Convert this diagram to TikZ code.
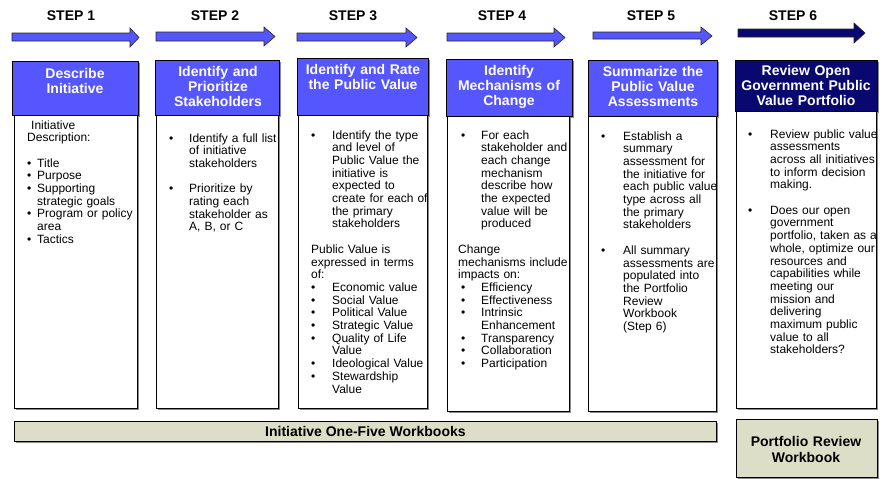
\documentclass[tikz,border=0pt]{standalone}
\usepackage{fontspec}
\setmainfont{Liberation Sans}
\usetikzlibrary{shadows}
\definecolor{hblue}{RGB}{86,86,255}
\definecolor{hnavy}{RGB}{8,8,112}
\definecolor{wbgreen}{RGB}{220,222,200}
\newlength\mybi
\newlength\myti
\newcommand\bl[1]{\makebox[\myti][l]{\hspace*{\mybi}\textbullet}#1}
\newcommand\ct[1]{\hspace*{\myti}#1}
\newcommand\blockarrow[9]{%
  \filldraw[fill=#9, draw=black!85, line width=0.6pt]
    (#1,#2) -- (#4,#2) -- (#4,#5) -- (#7,#8) -- (#4,#6) -- (#4,#3) -- (#1,#3) -- cycle;}
\tikzset{
  boxbase/.style={draw=black, line width=0.8pt, inner sep=0pt, anchor=north west,
    drop shadow={shadow xshift=1.2pt, shadow yshift=-1.2pt, fill=black!45, opacity=1}},
  steplabel/.style={font=\bfseries\fontsize{14}{15}\selectfont, inner sep=0pt, anchor=center},
  htxt/.style={anchor=base, text=white, font=\bfseries\fontsize{14}{15}\selectfont,
    align=center, text width=140pt, inner sep=0pt},
  bodytxt/.style={anchor=base west, inner sep=0pt, font=\fontsize{12}{12.7}\selectfont,
    align=left, text width=170pt},
  wbtxt/.style={font=\bfseries\fontsize{14}{16}\selectfont, align=center, inner sep=0pt}
}
\begin{document}
\begin{tikzpicture}[x=1pt,y=-1pt]
\useasboundingbox (0,0) rectangle (886,479);

% step labels
\node[steplabel] (s1) at (71,16) {STEP 1};
\node[steplabel] (s2) at (215,16) {STEP 2};
\node[steplabel] (s3) at (353,16) {STEP 3};
\node[steplabel] (s4) at (502,16) {STEP 4};
\node[steplabel] (s5) at (651,16) {STEP 5};
\node[steplabel] (s6) at (793,16) {STEP 6};

% block arrows
\blockarrow{12}{33}{41}{130}{28}{47}{139}{37.5}{hblue}
\blockarrow{156}{32}{41}{264}{27}{46}{275}{36.5}{hblue}
\blockarrow{297}{33}{41}{406}{28}{47}{417}{37.5}{hblue}
\blockarrow{447}{33}{41}{554}{28}{47}{565}{37.5}{hblue}
\blockarrow{593}{32}{39}{701}{27}{45}{712}{36}{hblue}
\blockarrow{738}{29}{37}{854}{23}{43}{865}{33}{hnavy}

% header boxes
\node[boxbase, fill=hblue, minimum width=126pt, minimum height=54pt] (h1) at (12,61) {};
\node[boxbase, fill=hblue, minimum width=124pt, minimum height=55pt] (h2) at (155,60) {};
\node[boxbase, fill=hblue, minimum width=131pt, minimum height=57pt] (h3) at (297,58) {};
\node[boxbase, fill=hblue, minimum width=126pt, minimum height=57pt] (h4) at (446,59) {};
\node[boxbase, fill=hblue, minimum width=129pt, minimum height=56pt] (h5) at (588,60) {};
\node[boxbase, fill=hnavy, minimum width=142pt, minimum height=51pt] (h6) at (735,60) {};

% body boxes
\node[boxbase, fill=white, minimum width=123pt, minimum height=293pt] (b1) at (14,115) {};
\node[boxbase, fill=white, minimum width=122pt, minimum height=293pt] (b2) at (156,115) {};
\node[boxbase, fill=white, minimum width=129pt, minimum height=293pt] (b3) at (298,115) {};
\node[boxbase, fill=white, minimum width=122pt, minimum height=295pt] (b4) at (447,116) {};
\node[boxbase, fill=white, minimum width=128pt, minimum height=295pt] (b5) at (588,116) {};
\node[boxbase, fill=white, minimum width=140pt, minimum height=297pt] (b6) at (736,111) {};

% header texts
\node[htxt] (ht1) at (75,78) {Describe\\Initiative};
\node[htxt] (ht2) at (218,76) {Identify and\\Prioritize\\Stakeholders};
\node[htxt] (ht3) at (363,74) {Identify and Rate\\the Public Value};
\node[htxt] (ht4) at (509,75) {Identify\\Mechanisms of\\Change};
\node[htxt] (ht5) at (653,76) {Summarize the\\Public Value\\Assessments};
\node[htxt] (ht6) at (806,75) {Review Open\\Government Public\\Value Portfolio};

% body texts
\node[bodytxt] (t1) at (27,129) {\setlength\mybi{0pt}\setlength\myti{10pt}%
\hspace*{4pt}Initiative\\
Description:\\
\mbox{}\\
\bl{Title}\\
\bl{Purpose}\\
\bl{Supporting}\\
\ct{strategic goals}\\
\bl{Program or policy}\\
\ct{area}\\
\bl{Tactics}};

\node[bodytxt] (t2) at (169,142) {\setlength\mybi{0pt}\setlength\myti{20pt}%
\bl{Identify a full list}\\
\ct{of initiative}\\
\ct{stakeholders}\\
\mbox{}\\
\bl{Prioritize by}\\
\ct{rating each}\\
\ct{stakeholder as}\\
\ct{A, B, or C}};

\node[bodytxt] (t3) at (311,139) {\setlength\mybi{0pt}\setlength\myti{21pt}%
\bl{Identify the type}\\
\ct{and level of}\\
\ct{Public Value the}\\
\ct{initiative is}\\
\ct{expected to}\\
\ct{create for each of}\\
\ct{the primary}\\
\ct{stakeholders}\\
\mbox{}\\
Public Value is\\
expressed in terms\\
of:\\
\bl{Economic value}\\
\bl{Social Value}\\
\bl{Political Value}\\
\bl{Strategic Value}\\
\bl{Quality of Life}\\
\ct{Value}\\
\bl{Ideological Value}\\
\bl{Stewardship}\\
\ct{Value}};

\node[bodytxt] (t4) at (458,139) {\setlength\mybi{3pt}\setlength\myti{23pt}%
\bl{For each}\\
\ct{stakeholder and}\\
\ct{each change}\\
\ct{mechanism}\\
\ct{describe how}\\
\ct{the expected}\\
\ct{value will be}\\
\ct{produced}\\
\mbox{}\\
Change\\
mechanisms include\\
impacts on:\\
\bl{Efficiency}\\
\bl{Effectiveness}\\
\bl{Intrinsic}\\
\ct{Enhancement}\\
\bl{Transparency}\\
\bl{Collaboration}\\
\bl{Participation}};

\node[bodytxt] (t5) at (601,140) {\setlength\mybi{0pt}\setlength\myti{22pt}%
\bl{Establish a}\\
\ct{summary}\\
\ct{assessment for}\\
\ct{the initiative for}\\
\ct{each public value}\\
\ct{type across all}\\
\ct{the primary}\\
\ct{stakeholders}\\
\mbox{}\\
\bl{All summary}\\
\ct{assessments are}\\
\ct{populated into}\\
\ct{the Portfolio}\\
\ct{Review}\\
\ct{Workbook}\\
\ct{(Step 6)}};

\node[bodytxt] (t6) at (748,138) {\setlength\mybi{0pt}\setlength\myti{22pt}%
\bl{Review public value}\\
\ct{assessments}\\
\ct{across all initiatives}\\
\ct{to inform decision}\\
\ct{making.}\\
\mbox{}\\
\bl{Does our open}\\
\ct{government}\\
\ct{portfolio, taken as a}\\
\ct{whole, optimize our}\\
\ct{resources and}\\
\ct{capabilities while}\\
\ct{meeting our}\\
\ct{mission and}\\
\ct{delivering}\\
\ct{maximum public}\\
\ct{value to all}\\
\ct{stakeholders?}};

% workbooks
\node[boxbase, fill=wbgreen, minimum width=702pt, minimum height=20pt] (wb1) at (14,421) {};
\node[wbtxt] (wbt1) at (wb1.center) {Initiative One-Five Workbooks};
\node[boxbase, fill=wbgreen, minimum width=141pt, minimum height=58pt] (wb2) at (736,419) {};
\node[wbtxt, anchor=base, text width=140pt] (wbt2) at (806,446) {Portfolio Review\\Workbook};
\end{tikzpicture}
\end{document}
